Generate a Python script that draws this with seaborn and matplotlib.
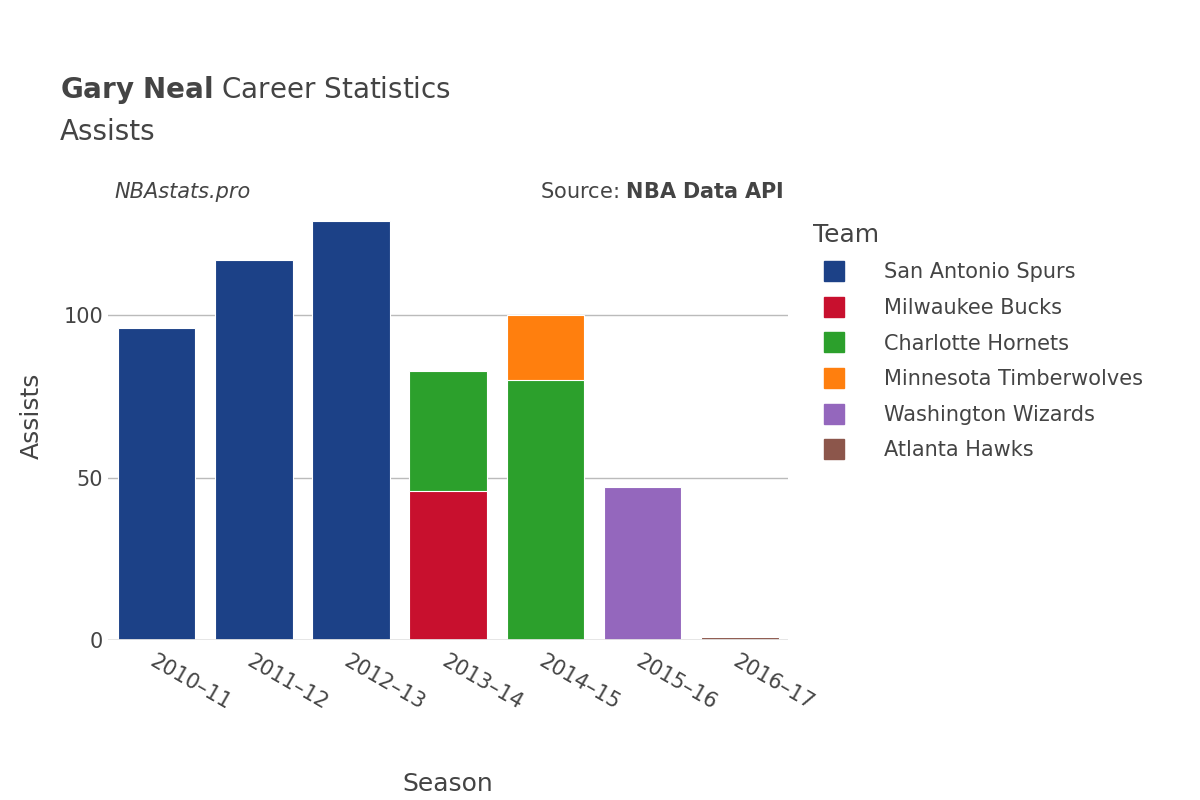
import matplotlib
matplotlib.use("Agg")
import matplotlib.pyplot as plt
import seaborn as sns
import pandas as pd
from matplotlib.lines import Line2D

seasons = ["2010–11", "2011–12", "2012–13", "2013–14", "2014–15", "2015–16", "2016–17"]
teams = ["San Antonio Spurs", "Milwaukee Bucks", "Charlotte Hornets",
         "Minnesota Timberwolves", "Washington Wizards", "Atlanta Hawks"]
colors = ["#1c4187", "#c8102e", "#2ca02c", "#ff7f0e", "#9467bd", "#8c564b"]
# (season, team, assists) in stacking order
row_season = ["2010–11", "2011–12", "2012–13", "2013–14", "2013–14", "2014–15", "2014–15", "2015–16", "2016–17"]
row_team = ["San Antonio Spurs", "San Antonio Spurs", "San Antonio Spurs", "Milwaukee Bucks",
            "Charlotte Hornets", "Charlotte Hornets", "Minnesota Timberwolves",
            "Washington Wizards", "Atlanta Hawks"]
row_assists = [96, 117, 129, 46, 37, 80, 20, 47, 1]

df = pd.DataFrame({"season": row_season, "team": row_team, "ast": row_assists})
df["level"] = df.groupby("season").cumcount()
df["top"] = df.groupby("season")["ast"].cumsum()

fig = plt.figure(figsize=(12, 8), dpi=100)
ax = fig.add_axes([0.09, 0.2, 0.567, 0.56])
palette = dict(zip(teams, colors))
for lvl in sorted(df["level"].unique(), reverse=True):
    sub = df[df["level"] == lvl]
    sns.barplot(data=sub, x="season", y="top", hue="team", order=seasons,
                hue_order=teams, palette=palette, dodge=False, width=0.8,
                saturation=1, edgecolor="white", linewidth=0.8, legend=False,
                ax=ax, zorder=3)

ax.set_ylim(0, 138)
ax.set_xlim(-0.5, 6.5)
ax.set_yticks([0, 50, 100])
ax.yaxis.grid(True, color="#bbbbbb", linewidth=1, zorder=0)
ax.axhline(0, color="#e5e5e5", linewidth=2, zorder=4)
for s in ax.spines.values():
    s.set_visible(False)
ax.tick_params(length=0, labelsize=15, colors="#444444")
ax.tick_params(axis="x", pad=8)
plt.setp(ax.get_xticklabels(), rotation=-30, ha="left", rotation_mode="anchor")
ax.set_xlabel("Season", fontsize=18, color="#444444", labelpad=42)
ax.set_ylabel("Assists", fontsize=18, color="#444444", labelpad=14)

fig.text(0.05, 0.878, "$\\bf{Gary\\ Neal}$ Career Statistics", fontsize=20, color="#444444")
fig.text(0.05, 0.825, "Assists", fontsize=20, color="#444444")
fig.text(0.095, 0.752, "NBAstats.pro", fontsize=15, style="italic", color="#444444")
fig.text(0.653, 0.752, "Source: $\\bf{NBA\\ Data\\ API}$", fontsize=15, color="#444444", ha="right")

handles = [Line2D([0], [0], marker="s", linestyle="", markersize=15,
                  markerfacecolor=c, markeredgecolor=c) for c in colors]
leg = fig.legend(handles, teams, loc="upper left", bbox_to_anchor=(0.662, 0.745),
                 frameon=False, fontsize=15, labelspacing=0.75, handletextpad=1.4,
                 title="Team", title_fontsize=18, alignment="left")
for t in leg.get_texts():
    t.set_color("#444444")
leg.get_title().set_color("#444444")

fig.savefig("out.png", dpi=100, facecolor="white")
